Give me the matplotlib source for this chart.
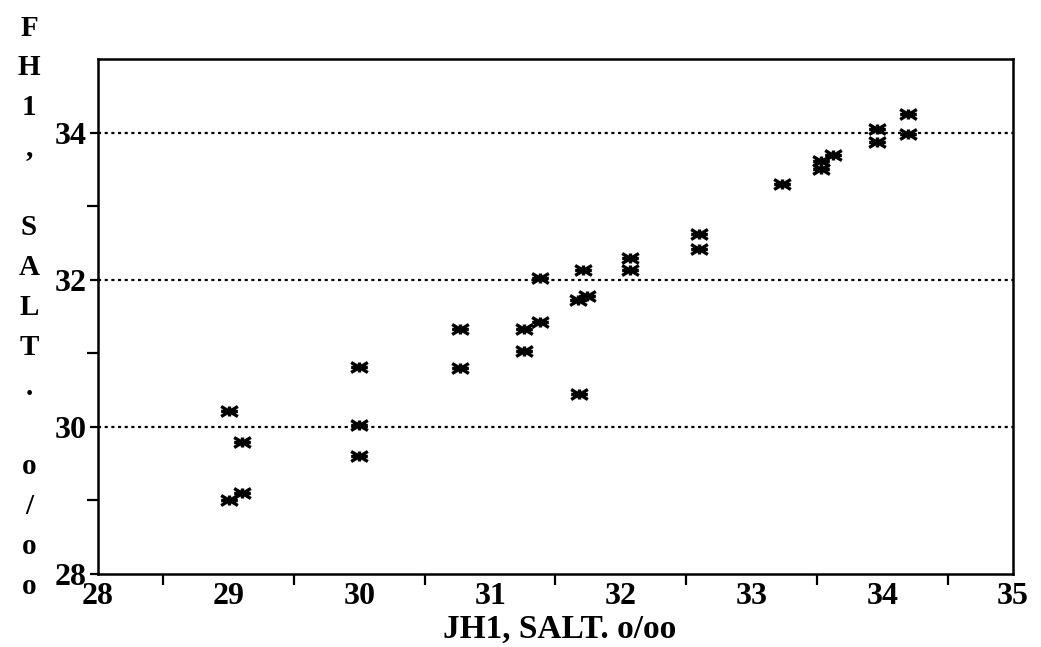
import numpy as np
import matplotlib
matplotlib.use("Agg")
import matplotlib.pyplot as plt
from matplotlib.path import Path

# JH1 vs FH1 salinity
jh1_salt = [29.0, 29.1, 29.1, 29.0, 30.0, 30.0, 30.0, 30.77, 30.77,
            31.26, 31.26, 31.38, 31.38, 31.71, 31.67, 31.74, 31.68,
            32.07, 32.07, 32.6, 32.6, 33.23, 33.53, 33.53, 33.62,
            33.96, 33.96, 34.2, 34.2]
fh1_salt = [30.22, 29.8, 29.1, 29.0, 30.03, 29.6, 30.82, 31.33, 30.8,
            31.33, 31.03, 31.43, 32.02, 32.13, 31.72, 31.78, 30.45,
            32.13, 32.3, 32.42, 32.62, 33.3, 33.5, 33.62, 33.7,
            33.87, 34.05, 33.98, 34.25]

x_labels = [28, 29, 30, 31, 32, 33, 34, 35]
x_minor = [28.5, 29.5, 30.5, 31.5, 32.5, 33.5, 34.5]
y_labels = [28, 30, 32, 34]
y_minor = [29, 31, 33]
grid_levels = [30, 32, 34]
x_title = "JH1, SALT. o/oo"
y_title = "FH1, SALT. o/oo"

SERIF = ["Liberation Serif", "DejaVu Serif"]
plt.rcParams["font.family"] = SERIF
plt.rcParams["font.weight"] = "bold"

# asterisk-like marker: X with a horizontal and vertical bar
verts = [(-1, -0.6), (1, 0.6), (-1, 0.6), (1, -0.6),
         (-1, 0), (1, 0), (0, -0.6), (0, 0.6)]
codes = [Path.MOVETO, Path.LINETO] * 4
star = Path(verts, codes)

fig = plt.figure(figsize=(10.41, 6.47), dpi=100)
ax = fig.add_axes([98/1041, 1 - 574/647, (1013-98)/1041, (574-59)/647])

for lev in grid_levels:
    ax.axhline(lev, color="black", lw=1.6, ls=(0, (1.4, 1.6)), zorder=1)

ax.plot(jh1_salt, fh1_salt, ls="none", marker=star, ms=12,
        mec="black", mfc="none", mew=2.4, zorder=3)

ax.set_xlim(28, 35)
ax.set_ylim(28, 35)
ax.set_xticks(x_labels)
ax.set_xticks(x_minor, minor=True)
ax.set_yticks(y_labels)
ax.set_yticks(y_minor, minor=True)
ax.tick_params(axis="x", which="major", length=0, pad=6, labelsize=23)
ax.tick_params(axis="x", which="minor", length=8, width=1.6, direction="out")
ax.tick_params(axis="y", which="major", length=6, width=1.6, pad=2, labelsize=23)
ax.tick_params(axis="y", which="minor", length=8, width=1.6, direction="out")
for lab in ax.get_xticklabels() + ax.get_yticklabels():
    lab.set_fontweight("bold")
for s in ax.spines.values():
    s.set_linewidth(1.8)

ax.set_xlabel(x_title, fontsize=24, fontweight="bold", labelpad=2, x=0.505)

# stacked vertical y title, one character per line
for i, ch in enumerate(y_title):
    ypix = 28 + i * 39.9
    fig.text(29/1041, 1 - ypix/647, ch, ha="center", va="center",
             fontsize=21, fontweight="bold")

plt.savefig("out.png", dpi=100, facecolor="white")
